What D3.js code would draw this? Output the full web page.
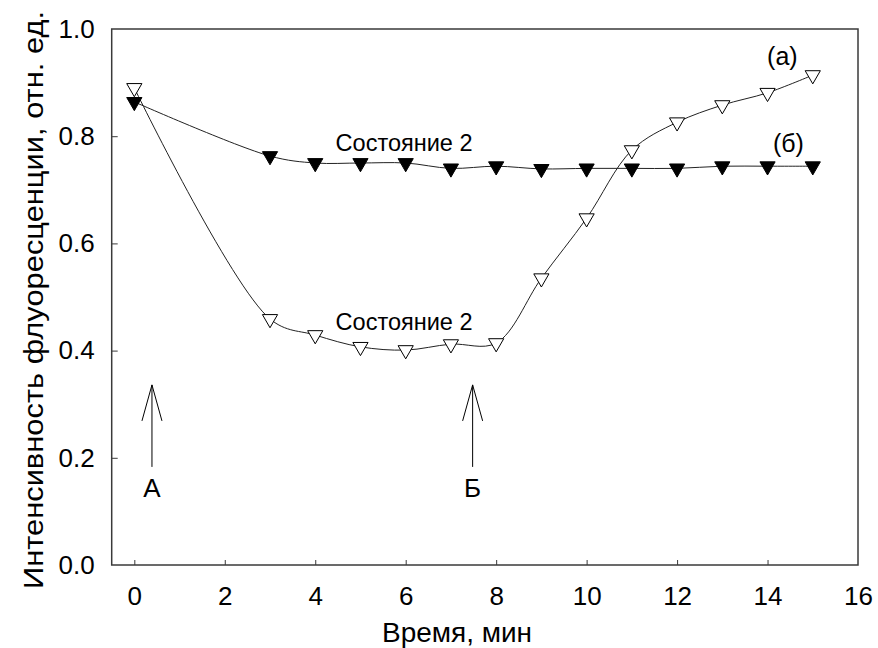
<!DOCTYPE html>
<html>
<head>
<meta charset="utf-8">
<script src="https://cdn.jsdelivr.net/npm/d3@7/dist/d3.min.js"></script>
<style>
  body { margin: 0; background: #fff; }
  text { font-family: Arial, "Liberation Sans", sans-serif; fill: #000; }
</style>
</head>
<body>
<svg width="878" height="648"></svg>
<script>
// время, мин
const time = [0, 3, 4, 5, 6, 7, 8, 9, 10, 11, 12, 13, 14, 15];
// (а) - open triangles
const seriesA = [0.89, 0.459, 0.429, 0.407, 0.401, 0.412, 0.414, 0.535, 0.647, 0.774, 0.826, 0.858, 0.881, 0.914];
// (б) - filled triangles
const seriesB = [0.864, 0.763, 0.75, 0.75, 0.75, 0.74, 0.744, 0.739, 0.74, 0.74, 0.74, 0.744, 0.744, 0.744];

const xTicks = [0, 2, 4, 6, 8, 10, 12, 14, 16];
const yTicks = [0, 0.2, 0.4, 0.6, 0.8, 1.0];

// arrows: [x, label]
const arrows = [[0.39, 'А'], [7.48, 'Б']];

const svg = d3.select('svg');

const x = d3.scaleLinear().domain([-0.5, 16]).range([111.7, 858]);
const y = d3.scaleLinear().domain([0, 1]).range([565, 29]);

const frameColor = '#3a3a3a';
const font = 'Arial, "Liberation Sans", sans-serif';

// frame
svg.append('rect')
  .attr('x', x(-0.5)).attr('y', y(1))
  .attr('width', x(16) - x(-0.5)).attr('height', y(0) - y(1))
  .attr('fill', 'none').attr('stroke', frameColor).attr('stroke-width', 1.5);

// axes, ticks point inward
const xAxis = svg.append('g')
  .attr('transform', `translate(0,${y(0)})`)
  .call(d3.axisBottom(x).tickValues(xTicks).tickSizeInner(-5).tickSizeOuter(0).tickPadding(22).tickFormat(d3.format('d')));
xAxis.select('.domain').remove();
xAxis.selectAll('.tick line').attr('stroke', frameColor);
xAxis.selectAll('.tick').filter(d => d === 16).select('line').remove();
xAxis.selectAll('text').attr('font-size', 26).attr('font-family', font);

const yAxis = svg.append('g')
  .attr('transform', `translate(${x(-0.5)},0)`)
  .call(d3.axisLeft(y).tickValues(yTicks).tickSizeInner(-6).tickSizeOuter(0).tickPadding(17).tickFormat(d3.format('.1f')));
yAxis.select('.domain').remove();
yAxis.selectAll('.tick line').attr('stroke', frameColor);
yAxis.selectAll('.tick').filter(d => d === 0 || d === 1).select('line').remove();
yAxis.selectAll('text').attr('font-size', 26).attr('font-family', font);

// axis titles
svg.append('text')
  .attr('x', 457).attr('y', 642)
  .attr('text-anchor', 'middle').attr('font-size', 27)
  .attr('textLength', 150).attr('lengthAdjust', 'spacingAndGlyphs')
  .text('Время, мин');

svg.append('text')
  .attr('transform', `translate(43,300) rotate(-90)`)
  .attr('text-anchor', 'middle').attr('font-size', 27)
  .attr('textLength', 578).attr('lengthAdjust', 'spacingAndGlyphs')
  .text('Интенсивность флуоресценции, отн. ед.');

// lines
const line = d3.line()
  .x(d => x(d[0])).y(d => y(d[1]))
  .curve(d3.curveCatmullRom.alpha(0.5));

const dataA = time.map((t, i) => [t, seriesA[i]]);
const dataB = time.map((t, i) => [t, seriesB[i]]);

const tri = d3.symbol().type(d3.symbolTriangle).size(100);

svg.append('path').datum(dataA).attr('d', line)
  .attr('fill', 'none').attr('stroke', '#222').attr('stroke-width', 1);
svg.append('g').selectAll('path').data(dataA).join('path')
  .attr('d', tri)
  .attr('transform', d => `translate(${x(d[0])},${y(d[1])}) rotate(180)`)
  .attr('fill', '#fff').attr('stroke', '#000').attr('stroke-width', 1);

svg.append('path').datum(dataB).attr('d', line)
  .attr('fill', 'none').attr('stroke', '#222').attr('stroke-width', 1);
svg.append('g').selectAll('path').data(dataB).join('path')
  .attr('d', tri)
  .attr('transform', d => `translate(${x(d[0])},${y(d[1])}) rotate(180)`)
  .attr('fill', '#000').attr('stroke', '#000').attr('stroke-width', 1);

// state labels
svg.append('text').attr('x', x(4.45)).attr('y', y(0.772)).attr('font-size', 24)
  .attr('textLength', 137).attr('lengthAdjust', 'spacingAndGlyphs').text('Состояние 2');
svg.append('text').attr('x', x(4.45)).attr('y', y(0.438)).attr('font-size', 24)
  .attr('textLength', 137).attr('lengthAdjust', 'spacingAndGlyphs').text('Состояние 2');

// series labels
svg.append('text').attr('x', x(13.99)).attr('y', 65).attr('font-size', 25).text('(а)');
svg.append('text').attr('x', x(14.12)).attr('y', 152).attr('font-size', 25).text('(б)');

// arrows
arrows.forEach(([ax, label]) => {
  const cx = x(ax);
  const tip = y(0.336), base = y(0.183);
  svg.append('line').attr('x1', cx).attr('x2', cx).attr('y1', tip).attr('y2', base)
    .attr('stroke', '#000').attr('stroke-width', 1);
  svg.append('path')
    .attr('d', `M${cx - 10},${tip + 36}L${cx},${tip}L${cx + 10},${tip + 36}`)
    .attr('fill', 'none').attr('stroke', '#000').attr('stroke-width', 1);
  svg.append('text').attr('x', cx).attr('y', y(0.144) + 9)
    .attr('text-anchor', 'middle').attr('font-size', 26).text(label);
});
</script>
</body>
</html>
